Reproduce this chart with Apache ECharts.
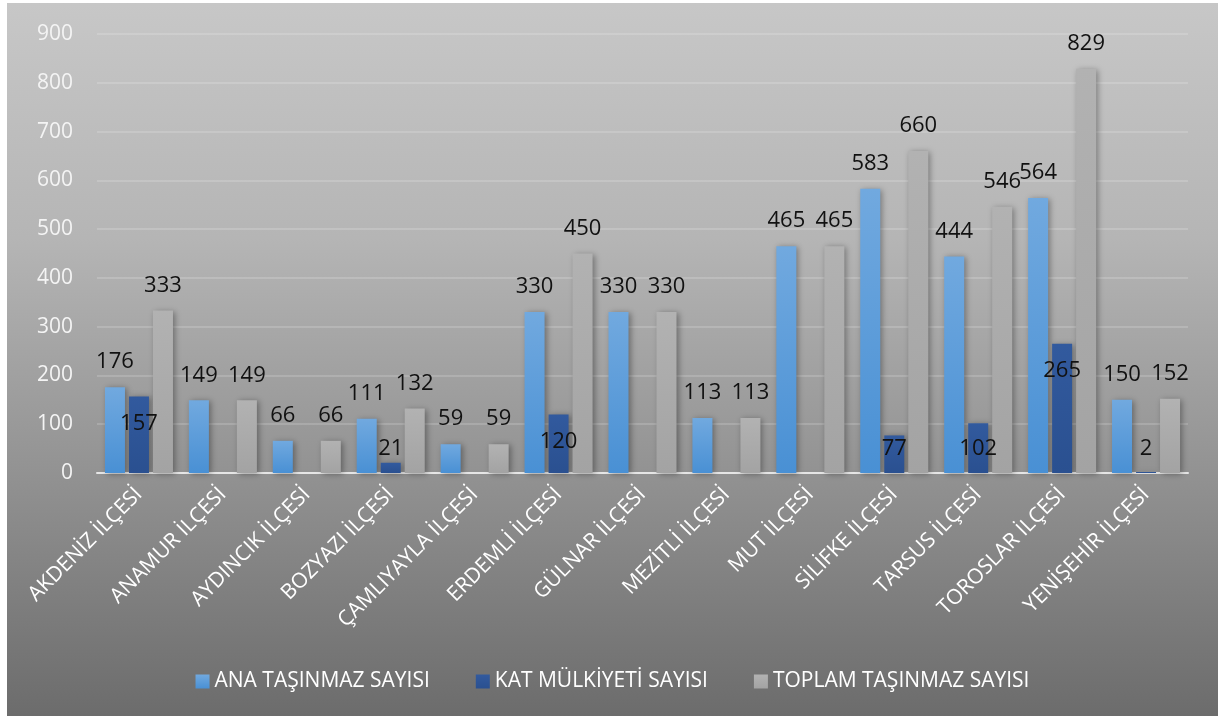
<!DOCTYPE html>
<html>
<head>
<meta charset="utf-8">
<script src="https://cdn.jsdelivr.net/npm/echarts@6/dist/echarts.min.js"></script>
<style>
  html, body { margin: 0; padding: 0; background: #fff; }
  #main { position: absolute; left: 7px; top: 3px; width: 1211px; height: 713px; }
</style>
</head>
<body>
<div id="main"></div>
<script>
// ilçeler
var districts = ['AKDENİZ İLÇESİ', 'ANAMUR İLÇESİ', 'AYDINCIK İLÇESİ', 'BOZYAZI İLÇESİ', 'ÇAMLIYAYLA İLÇESİ',
  'ERDEMLİ İLÇESİ', 'GÜLNAR İLÇESİ', 'MEZİTLİ İLÇESİ', 'MUT İLÇESİ', 'SİLİFKE İLÇESİ',
  'TARSUS İLÇESİ', 'TOROSLAR İLÇESİ', 'YENİŞEHİR İLÇESİ'];
var anaTasinmaz = [176, 149, 66, 111, 59, 330, 330, 113, 465, 583, 444, 564, 150];
var katMulkiyeti = [157, 0, 0, 21, 0, 120, 0, 0, 0, 77, 102, 265, 2];
var toplamTasinmaz = [333, 149, 66, 132, 59, 450, 330, 113, 465, 660, 546, 829, 152];
var yTicks = [0, 100, 200, 300, 400, 500, 600, 700, 800, 900];

// KAT etiketlerinin yerleri (Excel'deki gibi)
var katLabelPos = ['insideTop', '', '', 'top', '', 'insideTop', '', '', '', 'insideBottom', 'insideBottom', 'insideTop', 'insideBottom'];

var FONT = 'Open Sans';

function katData() {
  var out = [];
  for (var i = 0; i < katMulkiyeti.length; i++) {
    var v = katMulkiyeti[i];
    var item = { value: v };
    if (!v) {
      item.label = { show: false };
    } else {
      var p = katLabelPos[i];
      item.label = { position: p, distance: p == 'top' ? 3 : (p == 'insideTop' ? 16 : 13) };
    }
    out.push(item);
  }
  return out;
}

var labelStyle = {
  show: true, position: 'top', distance: 14,
  color: '#111', fontSize: 22, fontFamily: FONT
};
var barShadow = { shadowColor: 'rgba(0,0,0,0.35)', shadowBlur: 6, shadowOffsetX: 2, shadowOffsetY: 1 };

var myChart = echarts.init(document.getElementById('main'));
var option = {
  backgroundColor: new echarts.graphic.LinearGradient(0, 0, 0, 1, [
    { offset: 0, color: '#c7c7c7' },
    { offset: 0.33, color: '#b5b5b5' },
    { offset: 0.66, color: '#929292' },
    { offset: 1, color: '#6c6c6c' }
  ]),
  animation: false,
  textStyle: { fontFamily: FONT },
  legend: {
    bottom: 19, left: 'center',
    itemWidth: 14, itemHeight: 14, itemGap: 46, icon: 'rect',
    textStyle: { color: '#fff', fontSize: 21, fontFamily: FONT },
    data: ['ANA TAŞINMAZ SAYISI', 'KAT MÜLKİYETİ SAYISI', 'TOPLAM TAŞINMAZ SAYISI']
  },
  grid: { left: 90, right: 30, top: 31, bottom: 243 },
  xAxis: {
    type: 'category',
    data: districts,
    axisLine: { lineStyle: { color: '#e6e6e6', width: 2 } },
    axisTick: { show: false },
    axisLabel: { rotate: 45, interval: 0, color: '#fff', fontSize: 21, fontFamily: FONT, margin: 18 }
  },
  yAxis: {
    type: 'value', min: 0, max: 900, interval: 100,
    axisLine: { show: false },
    axisTick: { show: false },
    axisLabel: {
      color: '#f4f4f4', fontSize: 21, fontFamily: FONT, margin: 24,
      formatter: function (v) { return yTicks.indexOf(v) >= 0 ? String(v) : ''; }
    },
    splitLine: { lineStyle: { color: 'rgba(255,255,255,0.22)', width: 1.5 } }
  },
  series: [
    {
      name: 'ANA TAŞINMAZ SAYISI', type: 'bar', barWidth: 20, barGap: '20%',
      data: anaTasinmaz,
      label: labelStyle,
      itemStyle: Object.assign({
        color: new echarts.graphic.LinearGradient(0, 0, 0, 1, [
          { offset: 0, color: '#71a9df' },
          { offset: 1, color: '#4990d4' }
        ])
      }, barShadow)
    },
    {
      name: 'KAT MÜLKİYETİ SAYISI', type: 'bar', barWidth: 20, barGap: '20%',
      data: katData(),
      label: labelStyle,
      itemStyle: Object.assign({
        color: new echarts.graphic.LinearGradient(0, 0, 0, 1, [
          { offset: 0, color: '#325a9e' },
          { offset: 1, color: '#2a5090' }
        ])
      }, barShadow)
    },
    {
      name: 'TOPLAM TAŞINMAZ SAYISI', type: 'bar', barWidth: 20, barGap: '20%',
      data: toplamTasinmaz,
      label: labelStyle,
      itemStyle: Object.assign({
        color: new echarts.graphic.LinearGradient(0, 0, 0, 1, [
          { offset: 0, color: '#b2b2b2' },
          { offset: 1, color: '#a3a3a3' }
        ])
      }, barShadow)
    }
  ]
};
myChart.setOption(option);
</script>
</body>
</html>
